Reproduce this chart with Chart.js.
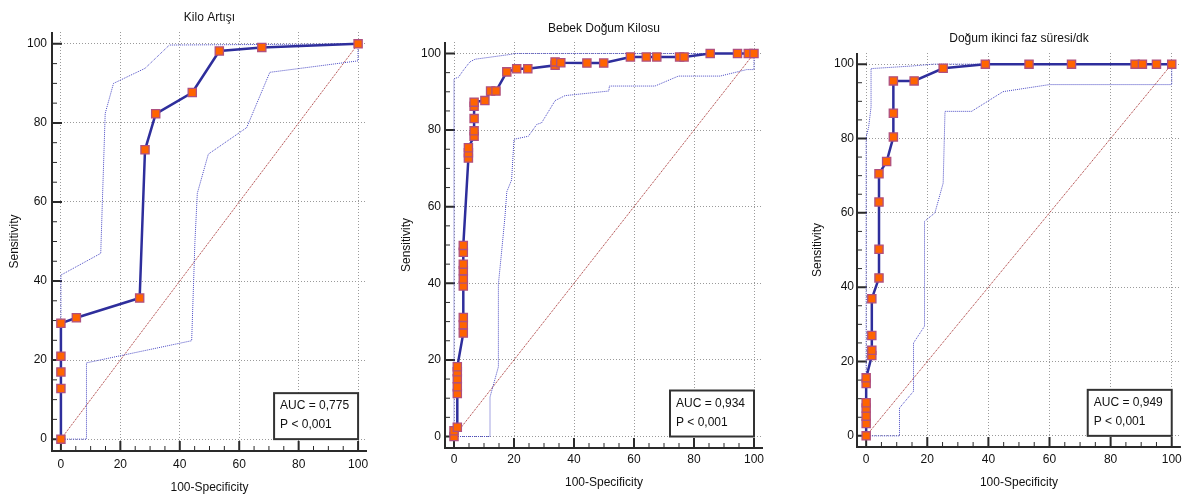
<!DOCTYPE html>
<html>
<head>
<meta charset="utf-8">
<script src="https://cdn.jsdelivr.net/npm/chart.js@4.4.1/dist/chart.umd.min.js"></script>
<style>
  html, body { margin: 0; padding: 0; background: #fff; }
  body { width: 1188px; height: 496px; position: relative; overflow: hidden; }
  .panel { position: absolute; top: 0; height: 496px; }
</style>
</head>
<body>
<div class="panel" style="left:0;width:385px"><canvas id="kilo"></canvas></div>
<div class="panel" style="left:385px;width:400px"><canvas id="bebek"></canvas></div>
<div class="panel" style="left:785px;width:403px"><canvas id="dogum"></canvas></div>
<script>
// values (100-Specificity, Sensitivity)
const titles = ['Kilo Artışı', 'Bebek Doğum Kilosu', 'Doğum ikinci faz süresi/dk'];
const aucLabels = ['0,775', '0,934', '0,949'];
const pLabels = ['0,001', '0,001', '0,001'];
const tickValues = [0, 20, 40, 60, 80, 100];

const diagX = [0, 100];
const diagY = [0, 100];

// Kilo Artışı
const kiloX = [0, 0, 0, 0, 0, 5.2, 26.5, 28.3, 31.9, 44.2, 53.3, 67.6, 100];
const kiloY = [0, 12.8, 17, 21, 29.3, 30.7, 35.7, 73.2, 82.3, 87.7, 98.2, 99.1, 100];
const kiloUpX = [0, 0, 13.4, 14.9, 17.7, 28.3, 36.5, 100];
const kiloUpY = [0, 41.5, 47, 82.4, 90, 93.8, 99.7, 100];
const kiloLoX = [0, 8.6, 8.6, 44, 45.1, 45.9, 49.6, 62.5, 70.3, 100, 100];
const kiloLoY = [0, 0, 19.3, 24.9, 50, 62.2, 72.1, 78.8, 92.8, 95.7, 100];

// Bebek Doğum Kilosu
const bebekX = [0, 0, 1.1, 1.1, 1.1, 1.1, 1.1, 1.1, 3.1, 3.1, 3.1, 3.1, 3.1, 3.1, 3.1, 3.1, 3.1,
  4.8, 4.8, 4.8, 6.7, 6.7, 6.7, 6.7, 6.7, 10.3, 12.2, 14.0, 17.6, 20.9, 24.6, 33.7, 33.7, 35.6,
  44.3, 49.9, 58.8, 64.1, 67.6, 75.2, 76.7, 85.4, 94.5, 98.1, 100];
const bebekY = [0, 1.5, 2.4, 11.2, 13, 15.1, 16.9, 18.2, 27, 29.2, 31.1, 39.3, 41.1, 43.3, 45, 48.1, 49.9,
  72.7, 74.1, 75.4, 78.4, 79.8, 83, 86.2, 87.3, 87.7, 90.2, 90.2, 95.2, 96, 96, 96.9, 97.8, 97.6,
  97.5, 97.5, 99.1, 99.1, 99.1, 99.1, 99.1, 100, 100, 100, 100];
const bebekUpX = [0, 0, 1.5, 3.1, 5.3, 7.0, 19.2, 20, 100];
const bebekUpY = [0, 93.4, 93.8, 95.6, 97.8, 98.5, 99.8, 100, 100];
const bebekLoX = [0, 12, 12, 14.8, 14.8, 15.9, 17, 17.6, 19.2, 20, 24.8, 27.6, 29.2, 33.7, 37, 51.6, 51.8, 67, 74.8, 88.7, 97.6, 100, 100];
const bebekLoY = [0, 0, 10.3, 18.2, 39.8, 48.5, 57.5, 63.9, 67, 77.6, 78.4, 81.5, 81.9, 87.7, 89, 90.2, 91.5, 91.5, 94.1, 94.1, 95.8, 95.8, 100];

// Doğum ikinci faz süresi/dk
const dogumX = [0, 0, 0, 0, 0, 0, 0, 1.85, 1.85, 1.85, 1.85, 4.2, 4.2, 4.2, 4.2, 6.7, 8.9, 8.9, 8.9,
  15.7, 25.2, 39, 53.3, 67.2, 88, 90.4, 95, 100];
const dogumY = [0, 3.3, 5.3, 7.5, 8.9, 14.1, 15.6, 21.6, 23, 27, 36.9, 42.5, 50.2, 62.9, 70.5, 73.8, 80.4, 86.8, 95.5,
  95.5, 98.9, 100, 100, 100, 100, 100, 100, 100];
const dogumUpX = [0, 0, 0.8, 1.6, 1.6, 15, 22, 100];
const dogumUpY = [0, 80.4, 83, 88.5, 98.8, 99.5, 100, 100];
const dogumLoX = [0, 10.9, 10.9, 15.5, 15.5, 19.1, 19.1, 22.5, 25.2, 25.8, 34.5, 44.8, 60, 100, 100];
const dogumLoY = [0, 0, 7.5, 12, 25, 29.5, 57.7, 60, 68, 87.3, 87.3, 92.6, 94.5, 94.5, 100];

const FONT = '"Liberation Sans", Arial, sans-serif';
const INK = '#111';

function pts(xs, ys) {
  return xs.map((x, i) => ({ x: x, y: ys[i] }));
}

// axis lines with inward ticks, and the AUC box
const rocFrame = {
  id: 'rocFrame',
  beforeDatasetsDraw(chart) {
    const { ctx, chartArea: a, scales: { x, y } } = chart;
    ctx.save();
    ctx.strokeStyle = '#2a2a2a';
    ctx.lineWidth = 2;
    ctx.beginPath();
    ctx.moveTo(a.left, a.top);
    ctx.lineTo(a.left, a.bottom);
    ctx.lineTo(a.right, a.bottom);
    ctx.stroke();
    for (let v = 0; v <= 100; v += 5) {
      const major = v % 20 === 0;
      const len = major ? 10 : 5;
      const px = x.getPixelForValue(v);
      const py = y.getPixelForValue(v);
      ctx.lineWidth = major ? 2 : 1;
      ctx.beginPath();
      ctx.moveTo(px, a.bottom);
      ctx.lineTo(px, a.bottom - len);
      ctx.moveTo(a.left, py);
      ctx.lineTo(a.left + len, py);
      ctx.stroke();
    }
    ctx.restore();
  },
  afterDatasetsDraw(chart, args, opts) {
    const { ctx, scales: { x, y } } = chart;
    const right = x.getPixelForValue(100);
    const bottom = y.getPixelForValue(0);
    const w = 84, h = 46;
    ctx.save();
    ctx.fillStyle = '#fff';
    ctx.fillRect(right - w, bottom - h, w, h);
    ctx.lineWidth = 2;
    ctx.strokeStyle = '#333';
    ctx.strokeRect(right - w, bottom - h, w, h);
    ctx.fillStyle = INK;
    ctx.font = '12px ' + FONT;
    ctx.textBaseline = 'middle';
    ctx.fillText('AUC = ' + opts.auc, right - w + 6, bottom - h + 13);
    ctx.fillText('P < ' + opts.p, right - w + 6, bottom - h + 32);
    ctx.restore();
  }
};

function makeChart(id, i, roc, upper, lower, lay) {
  const axis = (titleText, isX) => ({
    type: 'linear',
    min: -3,
    max: 103,
    afterBuildTicks: s => { s.ticks = tickValues.map(v => ({ value: v })); },
    afterFit: s => {
      if (isX) s.height = lay.xAxisHeight;
      else s.width = lay.yAxisWidth;
    },
    grid: { display: true, color: '#9a9a9a', lineWidth: 1, drawTicks: false },
    border: { display: false, dash: [1, 2] },
    ticks: {
      padding: isX ? lay.xTickPad : lay.yTickPad,
      color: INK,
      font: { family: FONT, size: 12 }
    },
    title: {
      display: true,
      text: titleText,
      color: INK,
      font: { family: FONT, size: 12 },
      padding: isX ? { top: 0, bottom: lay.xTitlePad } : { top: lay.yTitlePad, bottom: 0 }
    }
  });

  return new Chart(document.getElementById(id), {
    type: 'scatter',
    data: {
      datasets: [
        {
          data: pts(roc[0], roc[1]),
          showLine: true,
          borderColor: '#2e2e9c',
          borderWidth: 2.5,
          pointStyle: 'rect',
          pointRadius: 5.8,
          pointBackgroundColor: '#ff6400',
          pointBorderColor: '#b0507f',
          pointBorderWidth: 1.3
        },
        {
          data: pts(upper[0], upper[1]),
          showLine: true,
          borderColor: '#4a4ac4',
          borderWidth: 1,
          borderDash: [1, 1],
          pointRadius: 0
        },
        {
          data: pts(lower[0], lower[1]),
          showLine: true,
          borderColor: '#4a4ac4',
          borderWidth: 1,
          borderDash: [1, 1],
          pointRadius: 0
        },
        {
          data: pts(diagX, diagY),
          showLine: true,
          borderColor: '#a02424',
          borderWidth: 1,
          borderDash: [1, 1],
          pointRadius: 0
        }
      ]
    },
    options: {
      responsive: true,
      maintainAspectRatio: false,
      devicePixelRatio: 1,
      animation: false,
      layout: { padding: { left: 0, right: lay.rightPad, top: 0, bottom: 0 } },
      scales: {
        x: axis('100-Specificity', true),
        y: axis('Sensitivity', false)
      },
      plugins: {
        legend: { display: false },
        tooltip: { enabled: false },
        title: {
          display: true,
          text: titles[i],
          fullSize: false,
          color: INK,
          font: { family: FONT, size: 12, weight: 'normal' },
          padding: { top: lay.titleTop, bottom: lay.titleBottom }
        },
        rocFrame: { auc: aucLabels[i], p: pLabels[i] }
      }
    },
    plugins: [rocFrame]
  });
}

makeChart('kilo', 0, [kiloX, kiloY], [kiloUpX, kiloUpY], [kiloLoX, kiloLoY],
  { yAxisWidth: 52, xAxisHeight: 45, rightPad: 18, titleTop: 10, titleBottom: 7.6,
    yTitlePad: 7.8, xTitlePad: 0.8, xTickPad: 6, yTickPad: 5 });
makeChart('bebek', 1, [bebekX, bebekY], [bebekUpX, bebekUpY], [bebekLoX, bebekLoY],
  { yAxisWidth: 60, xAxisHeight: 48, rightPad: 22, titleTop: 21, titleBottom: 6.6,
    yTitlePad: 14.8, xTitlePad: 5.8, xTickPad: 4, yTickPad: 4 });
makeChart('dogum', 2, [dogumX, dogumY], [dogumUpX, dogumUpY], [dogumLoX, dogumLoY],
  { yAxisWidth: 72, xAxisHeight: 49, rightPad: 6, titleTop: 31, titleBottom: 7.6,
    yTitlePad: 25.8, xTitlePad: 5.8, xTickPad: 5, yTickPad: 3 });
</script>
</body>
</html>
